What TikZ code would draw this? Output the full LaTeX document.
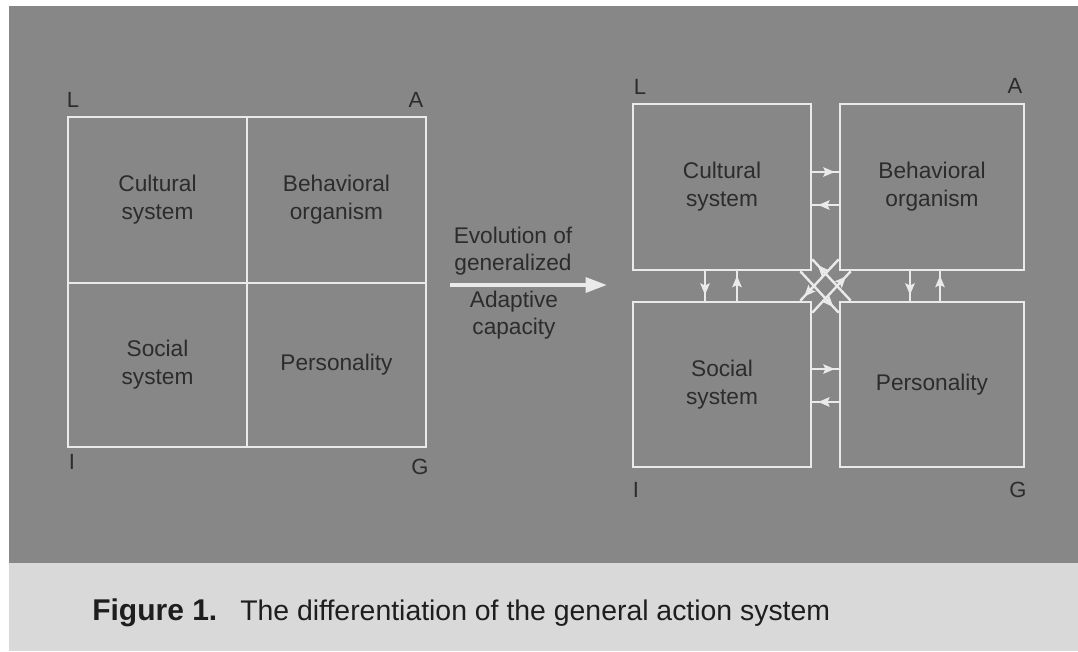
\documentclass[tikz,border=0pt]{standalone}
\usepackage{fontspec}
\setmainfont{Liberation Sans}
\usetikzlibrary{arrows.meta,decorations.markings}
\definecolor{panel}{HTML}{878787}
\definecolor{wline}{HTML}{EAEAEA}
\definecolor{ink}{HTML}{2C2C2C}
\definecolor{paper}{HTML}{D9D9D9}
\definecolor{capink}{HTML}{1E1E1E}
\begin{document}
\begin{tikzpicture}[x=0.75pt,y=-0.75pt,
  quad/.style={draw=wline, line width=2pt, inner sep=0pt, align=center,
    font=\fontsize{17}{21}\selectfont, text=ink},
  corner/.style={font=\fontsize{16.5}{20}\selectfont, text=ink, inner sep=0pt},
  lab/.style={font=\fontsize{17}{20.5}\selectfont, text=ink, align=center, inner sep=0pt},
  link/.style={draw=wline, line width=1.8pt},
  tipat/.style={postaction={decorate}, decoration={markings,
    mark=at position #1 with {\arrow{Stealth[length=8.5pt,width=7pt,inset=1.5pt,color=wline]}}}},
]
% background
\fill[white] (0,0) rectangle (1078,651);
\fill[panel] (9,6) rectangle (1078,563);
\fill[paper] (9,563) rectangle (1078,651);
\useasboundingbox (0,0) rectangle (1078,651);

% left diagram
\node[quad, minimum width=134.25pt, minimum height=124.5pt] (cul) at (157.5,200) {Cultural\\system};
\node[quad, minimum width=134.25pt, minimum height=124.5pt] (beh) at (336.5,200) {Behavioral\\organism};
\node[quad, minimum width=134.25pt, minimum height=123pt] (soc) at (157.5,365) {Social\\system};
\node[quad, minimum width=134.25pt, minimum height=123pt] (per) at (336.5,365) {Personality};
\node[corner] (lL) at (73,100) {L};
\node[corner] (lA) at (416,100) {A};
\node[corner] (lI) at (72,462) {I};
\node[corner] (lG) at (420,467) {G};

% middle arrow
\coordinate (evS) at (450,285);
\coordinate (evE) at (607,285);
\draw[wline, line width=3pt, -{Triangle[length=16pt,width=11pt]}] (evS) -- (evE);
\node[lab] (evo) at (513,251) {Evolution of\\generalized};
\node[lab] (ada) at (514,315) {Adaptive\\capacity};

% right diagram
\node[quad, minimum width=133.5pt, minimum height=124.5pt] (tl) at (722,187) {Cultural\\system};
\node[quad, minimum width=138pt, minimum height=124.5pt] (tr) at (932,187) {Behavioral\\organism};
\node[quad, minimum width=133.5pt, minimum height=123.75pt] (bl) at (722,384.5) {Social\\system};
\node[quad, minimum width=138pt, minimum height=123.75pt] (br) at (932,384.5) {Personality};
\node[corner] (rL) at (640,87) {L};
\node[corner] (rA) at (1015,86) {A};
\node[corner] (rI) at (636,490) {I};
\node[corner] (rG) at (1018,490) {G};

% horizontal interchanges
\draw[link, tipat=0.85] ([yshift=11.25pt]tl.east) -- ([yshift=11.25pt]tr.west);
\draw[link, tipat=0.78] ([yshift=-13.5pt]tr.west) -- ([yshift=-13.5pt]tl.east);
\draw[link, tipat=0.85] ([yshift=11.6pt]bl.east) -- ([yshift=11.6pt]br.west);
\draw[link, tipat=0.78] ([yshift=-13.1pt]br.west) -- ([yshift=-13.1pt]bl.east);
% vertical interchanges
\draw[link, tipat=0.8] ([xshift=-12.75pt]tl.south) -- ([xshift=-12.75pt]bl.north);
\draw[link, tipat=0.85] ([xshift=11.25pt]bl.north) -- ([xshift=11.25pt]tl.south);
\draw[link, tipat=0.8] ([xshift=-16.5pt]tr.south) -- ([xshift=-16.5pt]br.north);
\draw[link, tipat=0.85] ([xshift=6pt]br.north) -- ([xshift=6pt]tr.south);
% diagonal interchanges
\draw[link, tipat=0.86] ([xshift=9pt]br.north west) -- ([yshift=9pt]tl.south east);
\draw[link, tipat=0.86] ([xshift=-9pt]tl.south east) -- ([yshift=-9pt]br.north west);
\draw[link, tipat=0.9] ([yshift=9pt]tr.south west) -- ([xshift=-9pt]bl.north east);
\draw[link, tipat=0.88] ([yshift=-9pt]bl.north east) -- ([xshift=9pt]tr.south west);

% caption
\node[anchor=base west, inner sep=0pt, text=capink, font=\bfseries\fontsize{22.5}{26}\selectfont] (fig) at (92,620) {Figure 1.};
\node[anchor=base west, inner sep=0pt, text=capink, font=\fontsize{21.3}{25}\selectfont] (cap) at (240,620) {The differentiation of the general action system};
\end{tikzpicture}
\end{document}
